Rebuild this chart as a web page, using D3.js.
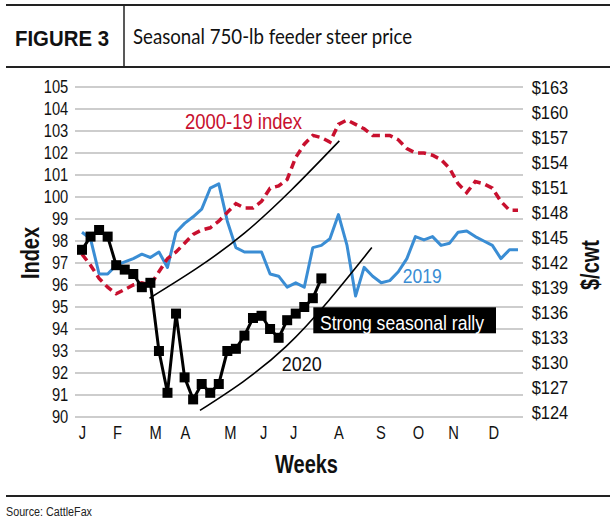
<!DOCTYPE html>
<html><head><meta charset="utf-8">
<script src="https://cdn.jsdelivr.net/npm/d3@7"></script>
<style>
html,body{margin:0;padding:0;background:#fff;}
svg{display:block;}
text{font-family:"Liberation Sans",Arial,Helvetica,sans-serif;}
</style></head>
<body>
<script>
// ---- data ----
const weeks = d3.range(1, 53);
const index2000_19 = [97.4,96.9,96.3,95.9,95.6,95.8,96.0,96.1,96.0,96.6,97.2,97.5,97.9,98.3,98.5,98.6,98.9,99.3,99.7,99.5,99.5,99.8,100.4,100.5,100.8,101.8,102.4,102.8,102.7,102.5,103.3,103.5,103.3,103.1,102.8,102.8,102.8,102.6,102.2,102.0,102.0,101.9,101.7,101.3,100.6,100.2,100.7,100.6,100.4,99.8,99.4,99.4];
const index2019 = [98.4,98.1,96.5,96.5,96.9,97.05,97.2,97.4,97.25,97.5,96.8,98.4,98.8,99.1,99.45,100.4,100.6,98.9,97.7,97.5,97.5,97.5,96.5,96.4,95.9,96.1,95.9,97.7,97.8,98.1,99.2,97.8,95.5,96.8,96.4,96.1,96.2,96.6,97.2,98.2,98.05,98.2,97.8,97.9,98.4,98.45,98.2,98.0,97.8,97.2,97.6,97.6];
const index2020 = [97.6,98.2,98.5,98.2,96.9,96.7,96.5,95.9,96.1,93.0,91.1,94.7,91.8,90.8,91.5,91.1,91.5,93.0,93.1,93.7,94.5,94.6,94.0,93.6,94.4,94.7,95.0,95.4,96.3];
const trendUpper = [[8.9,95.4],[20,98.36],[31.1,102.55]];
const trendLower = [[14.8,90.3],[24.85,93.2],[34.9,97.7]];
const indexTicks = d3.range(90, 106, 1);
const priceTicks = d3.range(124, 164, 3);
const monthLabels = ["J","F","M","A","M","J","J","A","S","O","N","D"];
const monthWeeks = [1,5.1,9.55,13.05,18.3,22.2,25.7,31.0,35.9,40.3,44.4,49.1];

// ---- layout ----
const W = 610, H = 522;
const svg = d3.select("body").append("svg").attr("width", W).attr("height", H);
const SX = 0.84;

function label(x, y, s, o = {}) {
  const t = svg.append("text")
    .attr("transform", `translate(${x},${y}) rotate(${o.rot || 0}) scale(${o.sx || SX},1)`)
    .attr("text-anchor", o.anchor || "start")
    .attr("font-size", o.size || 17.5)
    .attr("font-weight", o.weight || "normal")
    .attr("fill", o.fill || "#111")
    .text(s);
  if (o.family) t.style("font-family", o.family);
  if (o.len) t.attr("textLength", o.len).attr("lengthAdjust", "spacingAndGlyphs");
  return t;
}

// header
svg.append("line").attr("x1", 6).attr("x2", 610).attr("y1", 5).attr("y2", 5).attr("stroke", "#222").attr("stroke-width", 2);
svg.append("line").attr("x1", 6).attr("x2", 610).attr("y1", 67).attr("y2", 67).attr("stroke", "#222").attr("stroke-width", 2);
svg.append("line").attr("x1", 124).attr("x2", 124).attr("y1", 5).attr("y2", 67).attr("stroke", "#222").attr("stroke-width", 1.5);
label(15, 45.5, "FIGURE 3", {size: 22.5, weight: "bold", sx: 1, len: 94, family: "'Liberation Sans', Arial, sans-serif"});
label(133, 44, "Seasonal 750-lb feeder steer price", {size: 20.5, sx: 1, len: 279, family: "Lato, 'Liberation Sans', sans-serif"});

// footer
svg.append("line").attr("x1", 6).attr("x2", 610).attr("y1", 496).attr("y2", 496).attr("stroke", "#222").attr("stroke-width", 2);
label(6, 516, "Source: CattleFax", {size: 12.5, sx: 1, len: 86, fill: "#222"});

// scales
const x = d3.scaleLinear().domain([1, 52]).range([82, 518]);
const y = d3.scaleLinear().domain([90, 105]).range([417, 87]);
const yR = d3.scaleLinear().domain([124, 163]).range([412.5, 87.5]);

// gridlines
svg.append("g").selectAll("line").data(indexTicks).join("line")
  .attr("x1", 75).attr("x2", 523)
  .attr("y1", d => y(d)).attr("y2", d => y(d))
  .attr("stroke", "#bdbdbd").attr("stroke-width", 1.5);

// axes
const axL = svg.append("g").attr("transform", "translate(75,0)")
  .call(d3.axisLeft(y).tickValues(indexTicks).tickSize(0).tickFormat(d3.format("d")));
axL.select(".domain").remove();
axL.selectAll("text").attr("x", -6.7 / SX).attr("transform", `scale(${SX},1)`)
  .attr("font-size", 17.5).attr("fill", "#111").attr("font-family", null);

const SXR = 0.94;
const axR = svg.append("g").attr("transform", "translate(523,0)")
  .call(d3.axisRight(yR).tickValues(priceTicks).tickSize(0).tickFormat(d => "$" + d));
axR.select(".domain").remove();
axR.selectAll("text").attr("x", 8.7 / SXR).attr("transform", `scale(${SXR},1)`)
  .attr("font-size", 17.5).attr("fill", "#111").attr("font-family", null);

const axB = svg.append("g").attr("transform", "translate(0,417)")
  .call(d3.axisBottom(x).tickValues(monthWeeks).tickSize(0).tickFormat((d, i) => monthLabels[i]));
axB.select(".domain").remove();
axB.selectAll("text").attr("y", 22.3).attr("dy", 0).attr("x", 0)
  .attr("transform", `scale(${SX},1)`)
  .attr("font-size", 17.5).attr("fill", "#111").attr("font-family", null);

// axis titles
label(306.5, 473, "Weeks", {size: 25, weight: "bold", anchor: "middle", sx: 0.8});
label(38.5, 253, "Index", {size: 25, weight: "bold", anchor: "middle", sx: 0.8, rot: -90});
label(599, 265, "$/cwt", {size: 25, weight: "bold", anchor: "middle", sx: 0.8, rot: -90});

// lines
const line = d3.line().x((d, i) => x(weeks[i])).y(d => y(d));
svg.append("path").datum(index2019).attr("d", line)
  .attr("fill", "none").attr("stroke", "#3a8dd4").attr("stroke-width", 3).attr("stroke-linejoin", "round");
svg.append("path").datum(index2000_19).attr("d", line)
  .attr("fill", "none").attr("stroke", "#c8102e").attr("stroke-width", 3.5).attr("stroke-dasharray", "8,5");

const trend = d3.line().x(d => x(d[0])).y(d => y(d[1])).curve(d3.curveNatural);
[trendUpper, trendLower].forEach(t => svg.append("path").datum(t).attr("d", trend)
  .attr("fill", "none").attr("stroke", "#000").attr("stroke-width", 1.6));

svg.append("path").datum(index2020).attr("d", line)
  .attr("fill", "none").attr("stroke", "#000").attr("stroke-width", 3).attr("stroke-linejoin", "round");
svg.append("g").selectAll("rect").data(index2020).join("rect")
  .attr("x", (d, i) => x(weeks[i]) - 5).attr("y", d => y(d) - 5)
  .attr("width", 10).attr("height", 10).attr("fill", "#000");

// annotations
label(185, 129, "2000-19 index", {size: 22, fill: "#c8102e", sx: 1, len: 117});
label(402.7, 283, "2019", {size: 20.5, fill: "#3a8dd4", sx: 1, len: 39});
label(281.7, 370.7, "2020", {size: 20, fill: "#111", sx: 1, len: 40});
svg.append("rect").attr("x", 313.3).attr("y", 307.3).attr("width", 182.7).attr("height", 26).attr("fill", "#000");
label(320, 329.5, "Strong seasonal rally", {size: 20, fill: "#fff", sx: 1, len: 164});
</script>
</body></html>
